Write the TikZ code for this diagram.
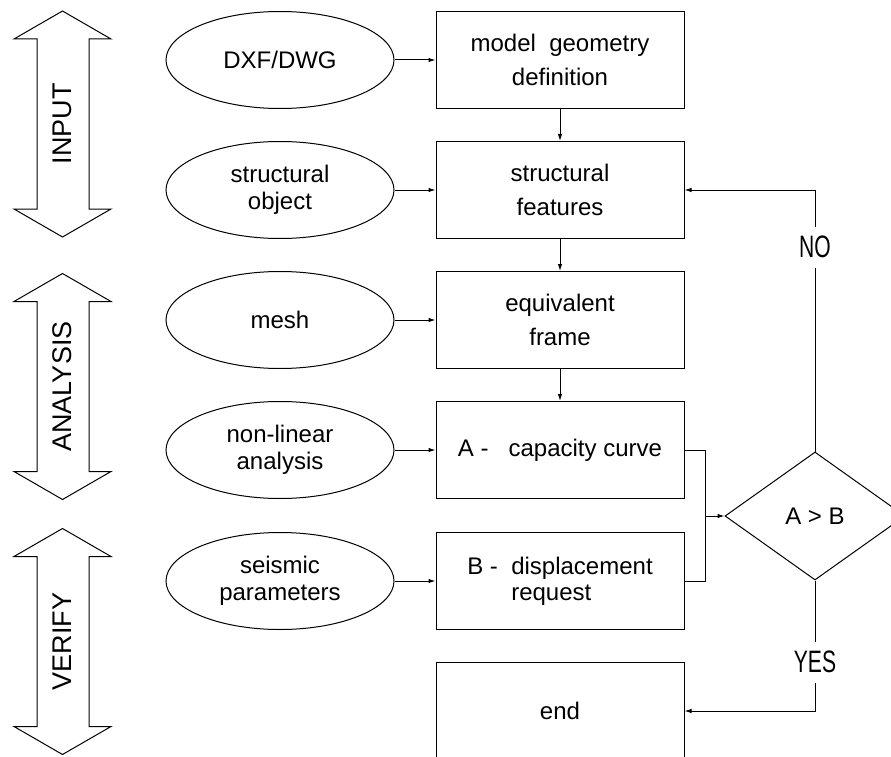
\documentclass[tikz,border=0pt]{standalone}
\usepackage{fontspec}
\setmainfont{Liberation Sans}
\newfontfamily\narrowfont[FakeStretch=0.68]{Liberation Sans}
\usetikzlibrary{arrows.meta, positioning, shapes.geometric}

\begin{document}
\begin{tikzpicture}[x=1pt, y=-1pt, line width=1pt,
		>={Latex[length=7pt,width=4.5pt]},
		stage/.style={ellipse, draw, minimum width=228pt, minimum height=97pt, inner sep=0pt, align=center, font=\fontsize{24}{27}\selectfont},
		task/.style={rectangle, draw, minimum width=248pt, minimum height=97pt, inner sep=0pt, align=center, font=\fontsize{24}{34}\selectfont},
		test/.style={diamond, draw, minimum width=180pt, minimum height=128pt, inner sep=0pt, font=\fontsize{24}{28}\selectfont},
		answer/.style={fill=white, inner sep=0pt, minimum height=40pt, font=\narrowfont\fontsize{31}{33}\selectfont},
		phase/.style={rotate=90, font=\fontsize{27}{29}\selectfont}]
		\useasboundingbox (0,0) rectangle (891,757);
		% phases on the left
		\foreach \yc/\lab/\nm in {124/INPUT/input, 386.5/ANALYSIS/analysis, 641.5/VERIFY/verify} {
			\draw (62.5,{\yc-113}) -- (111,{\yc-85}) -- (89,{\yc-85}) -- (89,{\yc+85}) -- (111,{\yc+85}) -- (62.5,{\yc+113}) -- (14,{\yc+85}) -- (37,{\yc+85}) -- (37,{\yc-85}) -- (14,{\yc-85}) -- cycle;
			\node[phase] (\nm) at (62.5,\yc) {\lab};
		}
		% data
		\node[stage] (dxf) at (280,60) {DXF/DWG};
		\node[stage] (object) at (280,190) {structural\\object};
		\node[stage] (mesh) at (280,320) {mesh};
		\node[stage] (nonlin) at (280,450) {non-linear\\analysis};
		\node[stage] (seismic) at (280,581) {seismic\\parameters};
		% steps
		\node[task] (geometry) at (560,60) {model\ \ geometry\\definition};
		\node[task] (features) at (560,190) {structural\\features};
		\node[task] (frame) at (560,320) {equivalent\\frame};
		\node[task] (capacity) at (560,450) {A -\ \ \ capacity curve};
		\node[task, align=left, font=\fontsize{24}{26}\selectfont] (request) at (560,581) {B -\ \ displacement\\\phantom{B -\ \ }request};
		\node[task] (stop) at (560,711) {end};
		% check
		\node[test] (check) at (815,516) {A > B};
		\node[answer] (no) at (815,247) {NO};
		\node[answer] (yes) at (815,662) {YES};
		\coordinate (merge) at (705,516);
		\foreach \a/\b in {dxf/geometry, object/features, mesh/frame, nonlin/capacity, seismic/request, geometry/features, features/frame, frame/capacity}
			\draw[->] (\a) -- (\b);
		\draw (capacity.east) -| (merge) |- (request.east);
		\draw[->] (merge) -- (check);
		\draw (check) -- (no);
		\draw[->] (no) |- (features);
		\draw (check) -- (yes);
		\draw[->] (yes) |- (stop);
	\end{tikzpicture}
\end{document}
